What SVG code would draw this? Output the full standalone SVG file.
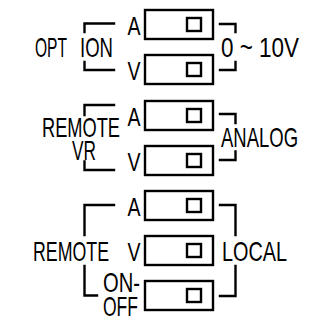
<svg xmlns="http://www.w3.org/2000/svg" width="335" height="326" viewBox="0 0 335 326">
<style>
.sw{fill:#fff;stroke:#000;stroke-width:2.4}
.kn{fill:none;stroke:#000;stroke-width:2.4}
.br{fill:none;stroke:#000;stroke-width:2.4;stroke-linecap:square}
text{font-family:"Liberation Sans",Arial,sans-serif;font-size:27.5px;fill:#000}
.s{font-size:26px}
</style>
<rect width="335" height="326" fill="#fff"/>
<g id="connectors">
<path class="br" d="M114,23.5H84.5V32M84.5,62V70H114"/>
<path class="br" d="M220,24H235.5V32M235.5,62V70H220"/>
<path class="br" d="M114,105H84.5V115M84.5,161.5V170H114"/>
<path class="br" d="M220,114H235.5V123M235.5,151.5V160H220"/>
<path class="br" d="M114,205H84.5V235M84.5,266V295.5H97"/>
<path class="br" d="M220,205H235.5V235M235.5,266V296H220"/>
</g>
<g id="opt-a"><rect class="sw" x="145" y="10" width="68" height="29"/><rect class="kn" x="187" y="18" width="14" height="13"/><text class="s" x="127.5" y="34.5" textLength="13" lengthAdjust="spacingAndGlyphs">A</text></g>
<g id="opt-v"><rect class="sw" x="145" y="55" width="68" height="29"/><rect class="kn" x="187" y="63" width="14" height="13"/><text class="s" x="127.5" y="80" textLength="13" lengthAdjust="spacingAndGlyphs">V</text></g>
<g id="vr-a"><rect class="sw" x="145" y="101" width="68" height="29"/><rect class="kn" x="187" y="109" width="14" height="13"/><text class="s" x="127.5" y="125.5" textLength="13" lengthAdjust="spacingAndGlyphs">A</text></g>
<g id="vr-v"><rect class="sw" x="145" y="146" width="68" height="29"/><rect class="kn" x="187" y="154" width="14" height="13"/><text class="s" x="127.5" y="171" textLength="13" lengthAdjust="spacingAndGlyphs">V</text></g>
<g id="rl-a"><rect class="sw" x="145" y="191" width="68" height="29"/><rect class="kn" x="187" y="199" width="14" height="13"/><text class="s" x="127.5" y="215.5" textLength="13" lengthAdjust="spacingAndGlyphs">A</text></g>
<g id="rl-v"><rect class="sw" x="145" y="236" width="68" height="29"/><rect class="kn" x="187" y="244" width="14" height="13"/><text class="s" x="127.5" y="261" textLength="13" lengthAdjust="spacingAndGlyphs">V</text></g>
<g id="rl-onoff"><rect class="sw" x="145" y="281" width="68" height="29"/><rect class="kn" x="187" y="289" width="14" height="13"/><text x="103" y="291.5" textLength="37" lengthAdjust="spacingAndGlyphs">ON-</text><text x="103" y="315.5" textLength="35" lengthAdjust="spacingAndGlyphs">OFF</text></g>
<g id="label-option"><text><tspan x="35" y="57" textLength="32" lengthAdjust="spacingAndGlyphs">OPT</tspan><tspan x="80" y="57" textLength="33" lengthAdjust="spacingAndGlyphs">ION</tspan></text></g>
<g id="label-010v"><text x="221" y="57" textLength="78" lengthAdjust="spacingAndGlyphs">0 ~ 10V</text></g>
<g id="label-remotevr"><text x="42" y="136.5" textLength="78" lengthAdjust="spacingAndGlyphs">REMOTE</text><text x="72" y="160" textLength="24" lengthAdjust="spacingAndGlyphs">VR</text></g>
<g id="label-analog"><text x="221" y="146.5" textLength="77" lengthAdjust="spacingAndGlyphs">ANALOG</text></g>
<g id="label-remote"><text x="33" y="261" textLength="76" lengthAdjust="spacingAndGlyphs">REMOTE</text></g>
<g id="label-local"><text x="222" y="261" textLength="65" lengthAdjust="spacingAndGlyphs">LOCAL</text></g>
</svg>
